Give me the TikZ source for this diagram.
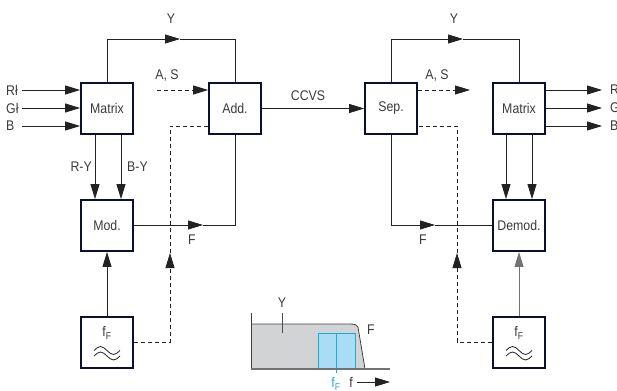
\documentclass[tikz,border=0pt]{standalone}
\usepackage{fontspec}
\setmainfont{Liberation Sans}[FakeStretch=0.88]
\usetikzlibrary{arrows.meta}
\definecolor{boxc}{HTML}{0B1030}
\definecolor{linec}{HTML}{222222}
\definecolor{txtc}{HTML}{3A3A3A}
\definecolor{specfill}{HTML}{D2D3D5}
\definecolor{bluefill}{HTML}{A8DDF5}
\definecolor{bluel}{HTML}{22A8E0}
\tikzset{
  blk/.style={draw=boxc, line width=1.8pt, fill=white, minimum width=52pt, minimum height=51pt, inner sep=0pt, text=txtc, font=\fontsize{14}{16}\selectfont},
  lbl/.style={text=txtc, font=\fontsize{14}{16}\selectfont, inner sep=0pt},
  ln/.style={draw=linec, line width=0.8pt},
  tip/.style={ln, -{Triangle[length=15pt,width=9pt]}},
  dsh/.style={ln, dash pattern=on 4pt off 3pt},
  dtip/.style={dsh, -{Triangle[length=15pt,width=9pt]}},
}
\begin{document}
\begin{tikzpicture}[x=1pt,y=-1pt]
\useasboundingbox (0,0) rectangle (617,390);
% blocks
\node[blk] (lm) at (107,108.5) {Matrix};
\node[blk] (add) at (235,108.5) {Add.};
\node[blk] (mod) at (107,225.5) {Mod.};
\node[blk] (lf) at (107,342.5) {};
\node[blk] (sep) at (391,108.5) {Sep.};
\node[blk] (rm) at (519,108.5) {Matrix};
\node[blk] (dem) at (519,225.5) {Demod.};
\node[blk] (rf) at (519,342.5) {};
% oscillator contents
\foreach \c in {107,519}{
  \node[lbl] (ff\c) at (\c,333) {f\textsubscript{F}};
  \draw[linec, line width=0.8pt] (\c-13,350.5) sin (\c-6.5,346.5) cos (\c,350.5) sin (\c+6.5,354.5) cos (\c+13,350.5);
  \draw[linec, line width=0.8pt] (\c-13,356) sin (\c-6.5,352) cos (\c,356) sin (\c+6.5,360) cos (\c+13,356);
}
% inputs
\coordinate (i1) at (22,90);
\coordinate (i2) at (22,108);
\coordinate (i3) at (22,126);
\node[lbl, anchor=west] (li1) at (6,90) {Rł};
\node[lbl, anchor=west] (li2) at (6,108) {Gł};
\node[lbl, anchor=west] (li3) at (6,126) {B};
\draw[tip] (i1) -- (i1 -| lm.west);
\draw[tip] (i2) -- (i2 -| lm.west);
\draw[tip] (i3) -- (i3 -| lm.west);
% Y left
\coordinate (yl1) at (107,39);
\coordinate (yl2) at (180,39);
\coordinate (yl3) at (235,39);
\draw[tip] (lm.north) -- (yl1) -- (yl2);
\draw[ln] (yl2) -- (yl3) -- (add.north);
\node[lbl] (ylab1) at (171,19) {Y};
% A,S left
\coordinate (as1) at (157,90);
\draw[dtip] (as1) -- (as1 -| add.west);
\node[lbl] (aslab1) at (167,76) {A, S};
% R-Y B-Y
\draw[tip] ([xshift=-12pt]lm.south) -- ([xshift=-12pt]mod.north);
\draw[tip] ([xshift=14pt]lm.south) -- ([xshift=14pt]mod.north);
\node[lbl, anchor=east] (ry) at (92,167) {R-Y};
\node[lbl, anchor=west] (by) at (127,167) {B-Y};
% Mod -> Add
\coordinate (fa) at (203,225);
\coordinate (fb) at (235,225);
\draw[tip] (mod.east |- fa) -- (fa);
\draw[ln] (fa) -- (fb) -- (add.south);
\node[lbl] (flab1) at (192,240) {F};
% oscillator -> mod
\draw[tip] (lf.north) -- (mod.south);
% dashed left
\coordinate (dl1) at (170,342);
\coordinate (dl2) at (170,253);
\coordinate (dl3) at (170,126);
\draw[dtip] (lf.east |- dl1) -- (dl1) -- (dl2);
\draw[dsh] (dl2) -- (dl3) -- (dl3 -| add.west);
% CCVS
\draw[tip] (add.east) -- (sep.west);
\node[lbl] (ccvs) at (308,96) {CCVS};
% Y right
\coordinate (yr1) at (391,39);
\coordinate (yr2) at (463,39);
\coordinate (yr3) at (519,39);
\draw[tip] (sep.north) -- (yr1) -- (yr2);
\draw[ln] (yr2) -- (yr3) -- (rm.north);
\node[lbl] (ylab2) at (454,19) {Y};
% A,S right
\coordinate (as2) at (470,90);
\draw[dtip] (sep.east |- as2) -- (as2);
\node[lbl] (aslab2) at (437,76) {A, S};
% dashed right
\coordinate (dr1) at (457,342);
\coordinate (dr2) at (457,253);
\coordinate (dr3) at (457,126);
\draw[dtip] (rf.west |- dr1) -- (dr1) -- (dr2);
\draw[dsh] (dr2) -- (dr3) -- (dr3 -| sep.east);
% Sep -> Demod
\coordinate (fr1) at (391,225);
\coordinate (fr2) at (435,225);
\draw[tip] (sep.south) -- (fr1) -- (fr2);
\draw[ln] (fr2) -- (fr2 -| dem.west);
\node[lbl] (flab2) at (423,240) {F};
% Matrix -> Demod
\draw[tip] ([xshift=-13pt]rm.south) -- ([xshift=-13pt]dem.north);
\draw[tip] ([xshift=13pt]rm.south) -- ([xshift=13pt]dem.north);
% oscillator -> Demod
\draw[tip, draw=black!55] (rf.north) -- (dem.south);
% outputs
\coordinate (o1) at (602,90);
\coordinate (o2) at (602,108);
\coordinate (o3) at (602,126);
\draw[tip] (o1 -| rm.east) -- (o1);
\draw[tip] (o2 -| rm.east) -- (o2);
\draw[tip] (o3 -| rm.east) -- (o3);
\node[lbl, anchor=west] (lo1) at (610,90) {R};
\node[lbl, anchor=west] (lo2) at (610,108) {G};
\node[lbl, anchor=west] (lo3) at (610,126) {B};
% spectrum
\fill[specfill] (251,369) -- (251,324) -- (350,324) .. controls (355,324) and (357,325) .. (358,327) -- (365,369) -- cycle;
\draw[black!75, line width=0.8pt] (251,313) -- (251,369);
\draw[black!75, line width=0.8pt] (251,324) -- (350,324) .. controls (355,324) and (357,325) .. (358,327) -- (365,369);
\draw[bluel, fill=bluefill, line width=0.8pt] (318,333) rectangle (355,369);
\draw[bluel, line width=0.8pt] (336,333) -- (336,373);
\draw[black!55, line width=1.5pt] (251,369) -- (390,369);
\draw[black!70, line width=1pt] (282,313) -- (282,333);
\node[lbl] (sy) at (282,303) {Y};
\node[lbl] (sf) at (371,330) {F};
\node[lbl, text=bluel] (sff) at (336,384) {f\textsubscript{F}};
\node[lbl] (sfx) at (351,382) {f};
\coordinate (fx1) at (357,382);
\coordinate (fx2) at (390,382);
\draw[tip] (fx1) -- (fx2);
\end{tikzpicture}
\end{document}
